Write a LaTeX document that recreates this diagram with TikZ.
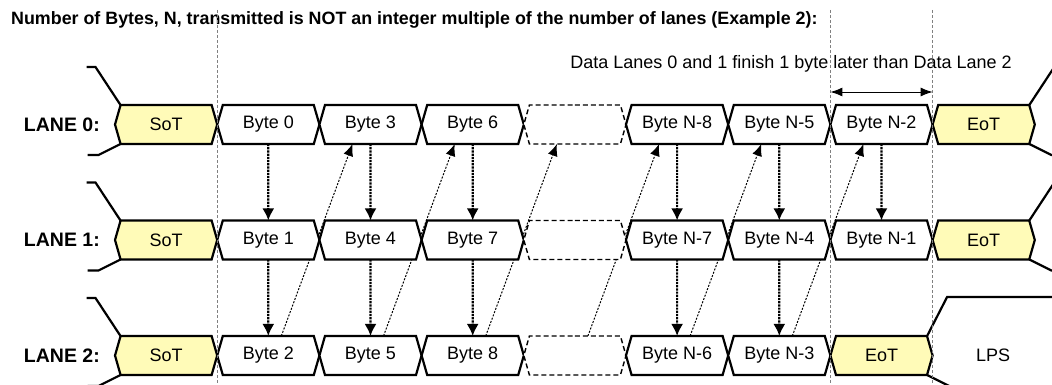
\documentclass[tikz,border=0pt]{standalone}
\usepackage{fontspec}
\setmainfont{Liberation Sans}
\usetikzlibrary{arrows.meta,positioning,shapes.symbols,backgrounds}

\begin{document}
\begin{tikzpicture}[
        x=1pt, y=-1pt,
        font=\fontsize{18}{20}\selectfont,
        node distance=0pt,
        cell/.style={
            draw,
            signal,
            signal to=east and west,
            signal pointer angle=148,
            line width=2.2pt,
            minimum width=102.2pt,
            minimum height=39pt,
            inner sep=0pt,
            outer sep=0pt,
            fill=white
        },
        sotbox/.style={cell, fill=yellow!28},
        gapbox/.style={cell, dash pattern=on 5pt off 3pt, line width=1.4pt},
        lanelabel/.style={font=\fontsize{19.5}{22}\selectfont\bfseries, inner sep=0pt},
        guide/.style={dash pattern=on 3pt off 2pt, line width=0.7pt, gray},
        vflow/.style={-{Latex[length=12pt,width=12pt]}, densely dotted, line width=2.2pt},
        dflow/.style={-{Latex[length=12pt,width=10pt]}, dash pattern=on 2pt off 1.5pt, line width=1pt},
        lp/.style={line width=2.2pt},
        spanarrow/.style={{Latex[length=12pt,width=9pt]}-{Latex[length=12pt,width=9pt]}, line width=0.9pt}
    ]
    \useasboundingbox (0,0) rectangle (1052,385);

    \node[lanelabel, font=\fontsize{17.85}{20}\selectfont\bfseries, anchor=west] (title) at (11,20) {Number of Bytes, N, transmitted is NOT an integer multiple of the number of lanes (Example 2):};

    % lane 0
    \node[lanelabel, anchor=east] (l0) at (100,124.5) {LANE 0:};
    \node[sotbox, right=15pt of l0] (s0) {SoT};
    \node[cell, right=of s0] (b0) {Byte 0};
    \node[cell, right=of b0] (b3) {Byte 3};
    \node[cell, right=of b3] (b6) {Byte 6};
    \node[gapbox, right=of b6] (d0) {};
    \node[cell, right=of d0] (n8) {Byte N-8};
    \node[cell, right=of n8] (n5) {Byte N-5};
    \node[cell, right=of n5] (n2) {Byte N-2};
    \node[sotbox, right=of n2] (e0) {EoT};

    % lane 1
    \node[lanelabel, anchor=east] (l1) at (100,240) {LANE 1:};
    \node[sotbox, right=15pt of l1] (s1) {SoT};
    \node[cell, right=of s1] (b1) {Byte 1};
    \node[cell, right=of b1] (b4) {Byte 4};
    \node[cell, right=of b4] (b7) {Byte 7};
    \node[gapbox, right=of b7] (d1) {};
    \node[cell, right=of d1] (n7) {Byte N-7};
    \node[cell, right=of n7] (n4) {Byte N-4};
    \node[cell, right=of n4] (n1) {Byte N-1};
    \node[sotbox, right=of n1] (e1) {EoT};

    % lane 2
    \node[lanelabel, anchor=east] (l2) at (100,355.5) {LANE 2:};
    \node[sotbox, right=15pt of l2] (s2) {SoT};
    \node[cell, right=of s2] (b2) {Byte 2};
    \node[cell, right=of b2] (b5) {Byte 5};
    \node[cell, right=of b5] (b8) {Byte 8};
    \node[gapbox, right=of b8] (d2) {};
    \node[cell, right=of d2] (n6) {Byte N-6};
    \node[cell, right=of n6] (n3) {Byte N-3};
    \node[sotbox, right=of n3] (e2) {EoT};
    \node[right=40pt of e2] (lps) {LPS};

    \node (note) at (791,64) {Data Lanes 0 and 1 finish 1 byte later than Data Lane 2};

    % LP levels before SoT and after EoT
    \draw[lp] (s0.west) ++(5.5,-19.5) -- ++(-25,-38) -- ++(-9,0);
    \draw[lp] (s0.west) ++(5.5,19.5) -- ++(-22,11) -- ++(-11,0);
    \draw[lp] (s1.west) ++(5.5,-19.5) -- ++(-25,-38) -- ++(-9,0);
    \draw[lp] (s1.west) ++(5.5,19.5) -- ++(-22,11) -- ++(-11,0);
    \draw[lp] (s2.west) ++(5.5,-19.5) -- ++(-25,-38) -- ++(-9,0);
    \draw[lp] (s2.west) ++(5.5,19.5) -- ++(-22,11) -- ++(-11,0);
    \draw[lp] (e0.east) ++(-5.5,-19.5) -- ++(25,-38) -- ++(10,0);
    \draw[lp] (e0.east) ++(-5.5,19.5) -- ++(22,11) -- ++(10,0);
    \draw[lp] (e1.east) ++(-5.5,-19.5) -- ++(25,-38) -- ++(10,0);
    \draw[lp] (e1.east) ++(-5.5,19.5) -- ++(22,11) -- ++(10,0);
    \draw[lp] (e2.east) ++(-5.5,-19.5) -- ++(20,-39) -- ++(110,0);
    \draw[lp] (e2.east) ++(-5.5,19.5) -- ++(22,11);

    % byte order lane 0 -> 1 -> 2
    \draw[vflow] (b0) -- (b1);
    \draw[vflow] (b1) -- (b2);
    \draw[vflow] (b3) -- (b4);
    \draw[vflow] (b4) -- (b5);
    \draw[vflow] (b6) -- (b7);
    \draw[vflow] (b7) -- (b8);
    \draw[vflow] (n8) -- (n7);
    \draw[vflow] (n7) -- (n6);
    \draw[vflow] (n5) -- (n4);
    \draw[vflow] (n4) -- (n3);
    \draw[vflow] (n2) -- (n1);

    \begin{scope}[on background layer]
        \draw[dflow] ([xshift=13pt]b2.north) -- ([xshift=-18pt]b3.south);
        \draw[dflow] ([xshift=13pt]b5.north) -- ([xshift=-18pt]b6.south);
        \draw[dflow] ([xshift=13pt]b8.north) -- ([xshift=-18pt]d0.south);
        \draw[dflow] ([xshift=13pt]d2.north) -- ([xshift=-18pt]n8.south);
        \draw[dflow] ([xshift=13pt]n6.north) -- ([xshift=-18pt]n5.south);
        \draw[dflow] ([xshift=13pt]n3.north) -- ([xshift=-18pt]n2.south);
    \end{scope}

    \coordinate (top) at (0,10);
    \coordinate (bot) at (0,385);
    \draw[guide] (s0.east |- top) -- (s0.east |- bot);
    \draw[guide] (n5.east |- top) -- (n5.east |- bot);
    \draw[guide] (n2.east |- top) -- (n2.east |- bot);
    \draw[spanarrow] ([yshift=32.5pt]n2.west) -- ([yshift=32.5pt]n2.east);

\end{tikzpicture}
\end{document}
